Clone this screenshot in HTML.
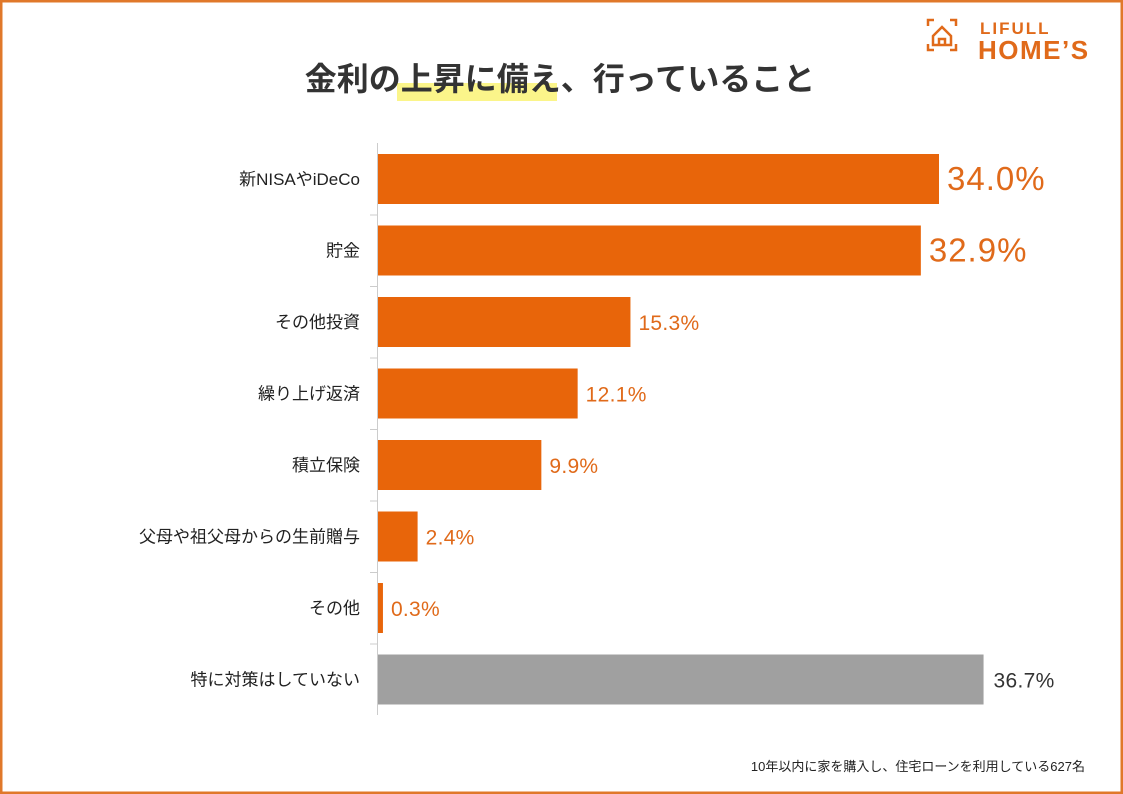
<!DOCTYPE html>
<html><head><meta charset="utf-8"><style>
html,body{margin:0;padding:0;background:#fff}
svg{display:block}
text{font-family:"Liberation Sans","Noto Sans CJK JP",sans-serif}
</style></head><body>
<svg id="c" width="1123" height="794" viewBox="0 0 1123 794">
<rect x="1" y="1" width="1121" height="792" fill="#fff" stroke="#e0782a" stroke-width="3"/>
<g>
<path d="M928 26v-6h6 M950 20h6v6 M928 44v6h6 M950 50h6v-6" fill="none" stroke="#e06a1a" stroke-width="2.5"/>
<path d="M933 36l9-9 9 9v9h-18z M939 45v-6h6v6" fill="none" stroke="#e06a1a" stroke-width="2.5"/>
<text x="980" y="34" font-size="17" font-weight="bold" fill="#e06a1a" letter-spacing="2">LIFULL</text>
<text x="978" y="59" font-size="26" font-weight="bold" fill="#e06a1a" letter-spacing="1.5">HOME’S</text>
</g>
<rect x="397" y="83" width="160" height="18" fill="#fbf58a"/>
<text x="560" y="90" font-size="32" font-weight="bold" fill="#333" text-anchor="middle">金利の上昇に備え、行っていること</text>
<line x1="377.5" y1="143" x2="377.5" y2="715" stroke="#ccc" stroke-width="1"/>
<g id="bars"></g>
<text x="1085" y="771" font-size="13" fill="#222" text-anchor="end">10年以内に家を購入し、住宅ローンを利用している627名</text>
</svg>
<script>
const categories=["新NISAやiDeCo","貯金","その他投資","繰り上げ返済","積立保険","父母や祖父母からの生前贈与","その他","特に対策はしていない"];
const values=[34.0,32.9,15.3,12.1,9.9,2.4,0.3,36.7];
const valueLabels=["34.0%","32.9%","15.3%","12.1%","9.9%","2.4%","0.3%","36.7%"];
const x0=378, pxPer=16.5, y0=154, pitch=71.5, bh=50;
const xs=v=>x0+v*pxPer, ys=i=>y0+i*pitch;
const g=document.getElementById('bars'), NS="http://www.w3.org/2000/svg";
categories.forEach((c,i)=>{
  const gray=i===categories.length-1;
  const r=document.createElementNS(NS,'rect');
  r.setAttribute('x',x0);r.setAttribute('y',ys(i));
  r.setAttribute('width',Math.max(xs(values[i])-x0,0));r.setAttribute('height',bh);
  r.setAttribute('fill',gray?'#a0a0a0':'#e8650a');
  
  
  g.appendChild(r);
  const t=document.createElementNS(NS,'text');
  t.setAttribute('x',360);t.setAttribute('y',ys(i)+bh/2+6);
  t.setAttribute('text-anchor','end');t.setAttribute('font-size','17');t.setAttribute('fill','#222');
  t.textContent=c;
  
  
  g.appendChild(t);
  if(i<categories.length-1){
    const tk=document.createElementNS(NS,'line');
    tk.setAttribute('x1',370);tk.setAttribute('x2',378);
    tk.setAttribute('y1',ys(i)+pitch-10.5);tk.setAttribute('y2',ys(i)+pitch-10.5);
    tk.setAttribute('stroke','#ccc');
    
    
    g.appendChild(tk);
  }
  const big=i<2;
  const v=document.createElementNS(NS,'text');
  v.setAttribute('x',xs(values[i])+(gray?10:8));v.setAttribute('y',ys(i)+bh/2+(big?11:8));
  v.setAttribute('font-size',big?'33':'21');
  v.setAttribute('letter-spacing',big?'1':'0.3');
  v.setAttribute('fill',gray?'#333':'#e06a1a');
  v.textContent=valueLabels[i];
  
  
  g.appendChild(v);
});
</script>
</body></html>
